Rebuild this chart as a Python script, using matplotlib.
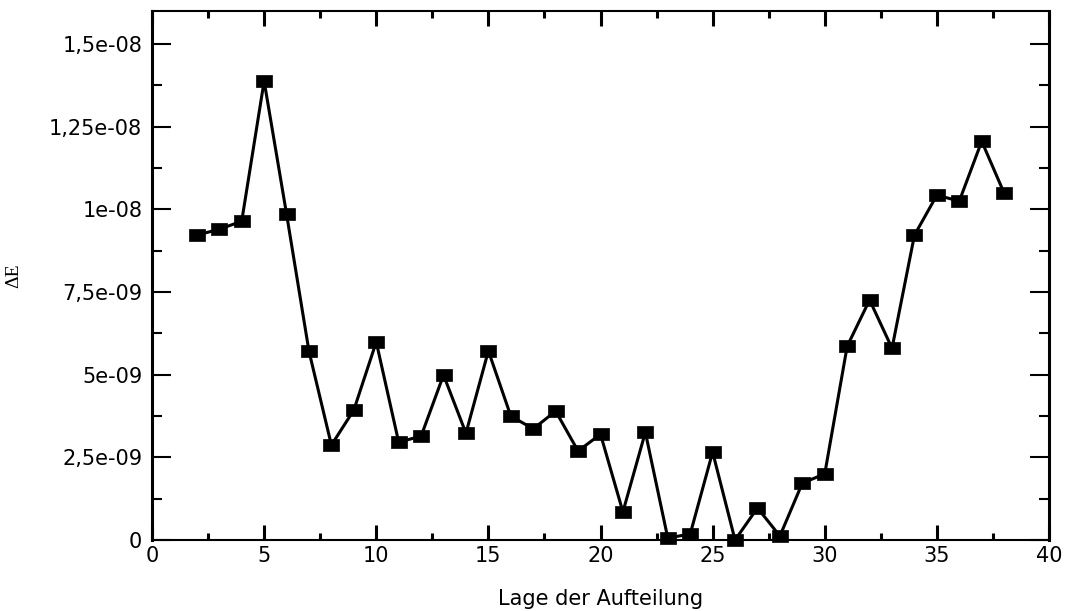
import matplotlib
matplotlib.use("Agg")
import matplotlib.pyplot as plt
from matplotlib.ticker import MultipleLocator, FixedLocator

# Data
lage = list(range(2, 39))
delta_e = [9.22e-9, 9.40e-9, 9.64e-9, 13.88e-9, 9.86e-9, 5.71e-9, 2.87e-9, 3.93e-9,
           5.99e-9, 2.96e-9, 3.14e-9, 4.99e-9, 3.23e-9, 5.72e-9, 3.75e-9, 3.36e-9,
           3.90e-9, 2.69e-9, 3.20e-9, 0.85e-9, 3.26e-9, 0.06e-9, 0.18e-9, 2.66e-9,
           0.0, 0.97e-9, 0.12e-9, 1.72e-9, 2.00e-9, 5.86e-9, 7.26e-9, 5.80e-9,
           9.22e-9, 10.43e-9, 10.25e-9, 12.06e-9, 10.49e-9]
y_ticks = [0, 2.5e-9, 5e-9, 7.5e-9, 1e-8, 1.25e-8, 1.5e-8]
y_tick_labels = ["0", "2,5e-09", "5e-09", "7,5e-09", "1e-08", "1,25e-08", "1,5e-08"]
x_ticks = [0, 5, 10, 15, 20, 25, 30, 35, 40]

plt.rcParams['font.family'] = ['DejaVu Sans']

fig = plt.figure(figsize=(10.68, 6.11), dpi=100)
ax = fig.add_axes([152/1068, 1 - 540/611, (1049-152)/1068, (540-11)/611])

# slightly wide rectangle marker (the reference is horizontally stretched)
rect_marker = [(-1, -0.82), (1, -0.82), (1, 0.82), (-1, 0.82), (-1, -0.82)]
ax.plot(lage, delta_e, color='black', lw=2.2, marker=rect_marker, markersize=11,
        markerfacecolor='black', markeredgecolor='black', markeredgewidth=0.5,
        clip_on=False, zorder=3)

ax.set_xlim(0, 40)
ax.set_ylim(0, 1.6e-8)
ax.xaxis.set_major_locator(FixedLocator(x_ticks))
ax.xaxis.set_minor_locator(MultipleLocator(2.5))
ax.set_xticklabels([str(v) for v in x_ticks])
ax.yaxis.set_major_locator(FixedLocator(y_ticks))
ax.yaxis.set_minor_locator(MultipleLocator(1.25e-9))
ax.set_yticklabels(y_tick_labels)

ax.spines['left'].set_linewidth(2.2)
ax.spines['right'].set_linewidth(2.2)
ax.spines['top'].set_linewidth(1.5)
ax.spines['bottom'].set_linewidth(1.5)

ax.tick_params(axis='both', which='both', direction='in', top=True, right=True)
ax.tick_params(axis='x', which='both', width=2.2)
ax.tick_params(axis='y', which='both', width=1.5)
ax.tick_params(axis='x', which='major', length=11, pad=4, labelsize=15)
ax.tick_params(axis='x', which='minor', length=5)
ax.tick_params(axis='y', which='major', length=14, pad=7, labelsize=15)
ax.tick_params(axis='y', which='minor', length=7)

ax.set_xlabel("Lage der Aufteilung", fontsize=15)
ax.xaxis.set_label_coords(0.5, (540 - 589) / 529)
ax.set_ylabel("ΔE", fontsize=14, family=['Liberation Serif', 'DejaVu Serif'])
ax.yaxis.set_label_coords((22 - 152) / 897, 0.5)

fig.savefig("out.png", dpi=100)
